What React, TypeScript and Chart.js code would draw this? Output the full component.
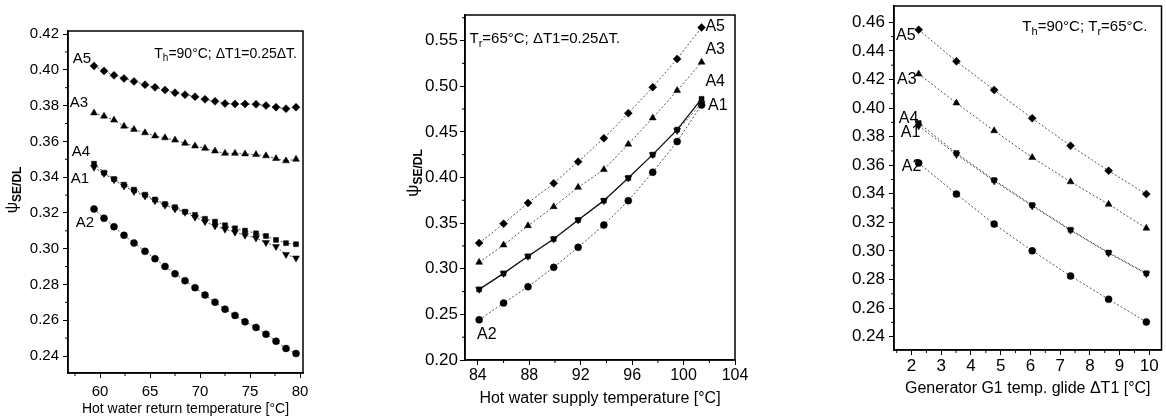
import React, { useEffect, useRef } from "react";
import { Chart, registerables } from "chart.js";

Chart.register(...registerables);

const FONT = '"Liberation Sans", Arial, Helvetica, sans-serif';

// ---------- Panel 1: hot water return temperature ----------
const p1X = [59.4, 60.4, 61.4, 62.4, 63.4, 64.5, 65.5, 66.5, 67.5, 68.5, 69.5, 70.5, 71.5, 72.5, 73.5, 74.5, 75.6, 76.6, 77.6, 78.6, 79.6];
const p1A5 = [0.4022, 0.3994, 0.3969, 0.3952, 0.3935, 0.3917, 0.3902, 0.3887, 0.3872, 0.3861, 0.385, 0.3835, 0.3824, 0.3811, 0.3809, 0.3809, 0.3807, 0.38, 0.3791, 0.3783, 0.3791];
const p1A3 = [0.3759, 0.3741, 0.3719, 0.3685, 0.3667, 0.3648, 0.363, 0.362, 0.3607, 0.3589, 0.3574, 0.3561, 0.3546, 0.3533, 0.3533, 0.353, 0.3526, 0.3519, 0.3504, 0.3491, 0.35];
const p1A4 = [0.3475, 0.3425, 0.339, 0.3358, 0.333, 0.3302, 0.3275, 0.325, 0.3232, 0.3207, 0.3189, 0.3167, 0.3151, 0.3131, 0.3114, 0.3101, 0.3086, 0.3071, 0.3049, 0.3031, 0.3025];
const p1A1 = [0.3455, 0.342, 0.3385, 0.335, 0.332, 0.3295, 0.3268, 0.3243, 0.3222, 0.3203, 0.3176, 0.3151, 0.3127, 0.3109, 0.3092, 0.3075, 0.306, 0.3034, 0.3012, 0.2968, 0.2948];
const p1A2 = [0.3222, 0.317, 0.3123, 0.3075, 0.3032, 0.2985, 0.2944, 0.2901, 0.286, 0.2821, 0.2782, 0.2741, 0.2701, 0.2662, 0.2627, 0.2591, 0.256, 0.2522, 0.2483, 0.2442, 0.2414];
const p1XTicks = [60, 65, 70, 75, 80];
const p1XMinor = [57.5, 62.5, 67.5, 72.5, 77.5];
const p1YTicks = [0.24, 0.26, 0.28, 0.3, 0.32, 0.34, 0.36, 0.38, 0.4, 0.42];
const p1YMinor = [0.25, 0.27, 0.29, 0.31, 0.33, 0.35, 0.37, 0.39, 0.41];

// ---------- Panel 2: hot water supply temperature ----------
const p2X = [84.1, 86.0, 87.9, 89.9, 91.8, 93.8, 95.7, 97.6, 99.5, 101.4];
const p2A5 = [0.3282, 0.3493, 0.372, 0.3936, 0.4173, 0.443, 0.4704, 0.4989, 0.5299, 0.5643];
const p2A3 = [0.307, 0.326, 0.3471, 0.368, 0.3892, 0.4086, 0.4364, 0.4652, 0.4952, 0.5263];
const p2A4 = [0.2774, 0.2949, 0.3136, 0.3326, 0.3534, 0.3746, 0.3995, 0.425, 0.4524, 0.4861];
const p2A1 = [0.2774, 0.2949, 0.3136, 0.3326, 0.3534, 0.3746, 0.3995, 0.425, 0.4515, 0.4812];
const p2A2 = [0.244, 0.2624, 0.2803, 0.3015, 0.3235, 0.3479, 0.3746, 0.4057, 0.4393, 0.4795];
const p2XTicks = [84, 88, 92, 96, 100, 104];
const p2XMinor = [86, 90, 94, 98, 102];
const p2YTicks = [0.2, 0.25, 0.3, 0.35, 0.4, 0.45, 0.5, 0.55];
const p2YMinor = [0.225, 0.275, 0.325, 0.375, 0.425, 0.475, 0.525, 0.575];

// ---------- Panel 3: generator G1 temperature glide ----------
const p3X = [2.24, 3.51, 4.78, 6.06, 7.35, 8.63, 9.9];
const p3A5 = [0.4548, 0.4327, 0.4126, 0.3928, 0.3736, 0.3561, 0.3398];
const p3A3 = [0.4238, 0.4035, 0.3841, 0.3654, 0.3484, 0.3327, 0.3159];
const p3A4 = [0.3895, 0.3685, 0.3496, 0.3321, 0.3148, 0.2989, 0.2844];
const p3A1 = [0.3875, 0.3675, 0.349, 0.3315, 0.3145, 0.2985, 0.284];
const p3A2 = [0.3615, 0.3398, 0.3188, 0.3001, 0.2825, 0.2662, 0.2503];
const p3XTicks = [2, 3, 4, 5, 6, 7, 8, 9, 10];
const p3XMinor = [1.5, 2.5, 3.5, 4.5, 5.5, 6.5, 7.5, 8.5, 9.5];
const p3YTicks = [0.24, 0.26, 0.28, 0.3, 0.32, 0.34, 0.36, 0.38, 0.4, 0.42, 0.44, 0.46];
const p3YMinor = [0.25, 0.27, 0.29, 0.31, 0.33, 0.35, 0.37, 0.39, 0.41, 0.43, 0.45];

type Seg = { t: string; sub?: boolean };
type TextItem = { x: number; y: number; segs: Seg[]; align: "left" | "center" | "right"; size: number };

function drawSegs(ctx: CanvasRenderingContext2D, px: number, py: number, segs: Seg[], align: string, size: number, subBold = false) {
  const subSize = Math.round(size * 0.72);
  const fontOf = (s: Seg) => (s.sub ? `${subBold ? "bold " : ""}${subSize}px ${FONT}` : `${size}px ${FONT}`);
  let total = 0;
  const widths = segs.map((s) => {
    ctx.font = fontOf(s);
    const w = ctx.measureText(s.t).width;
    total += w;
    return w;
  });
  let cx = align === "left" ? px : align === "right" ? px - total : px - total / 2;
  ctx.textBaseline = "middle";
  ctx.textAlign = "left";
  ctx.fillStyle = "#000";
  segs.forEach((s, i) => {
    ctx.font = fontOf(s);
    ctx.fillText(s.t, cx, py + (s.sub ? size * 0.32 : 0));
    cx += widths[i];
  });
}

const decorPlugin = {
  id: "decor",
  afterDraw(chart: any, _args: any, opts: any) {
    const { ctx, chartArea: a, scales } = chart;
    ctx.save();
    ctx.strokeStyle = "#000";
    ctx.lineWidth = 1.5;
    ctx.strokeRect(a.left, a.top, a.right - a.left, a.bottom - a.top);
    ctx.lineWidth = 1;
    (opts.xMinor || []).forEach((v: number) => {
      const px = scales.x.getPixelForValue(v);
      if (px < a.left || px > a.right) return;
      ctx.beginPath();
      ctx.moveTo(px, a.bottom);
      ctx.lineTo(px, a.bottom + 3);
      ctx.stroke();
    });
    (opts.yMinor || []).forEach((v: number) => {
      const py = scales.y.getPixelForValue(v);
      if (py < a.top || py > a.bottom) return;
      ctx.beginPath();
      ctx.moveTo(a.left, py);
      ctx.lineTo(a.left - 3, py);
      ctx.stroke();
    });
    (opts.labels || []).forEach((l: TextItem) => {
      drawSegs(ctx, scales.x.getPixelForValue(l.x), scales.y.getPixelForValue(l.y), l.segs, l.align, l.size);
    });
    if (opts.yTitle) {
      const t = opts.yTitle;
      ctx.translate(t.px, t.py);
      ctx.rotate(-Math.PI / 2);
      drawSegs(ctx, 0, 0, t.segs, "center", t.size, true);
    }
    ctx.restore();
  },
};

type SeriesSpec = { label: string; data: number[]; style: string; rotation?: number; radius: number; dash: number[]; width: number; color: string };

type PanelSpec = {
  width: number;
  x: number[];
  series: SeriesSpec[];
  xMin: number; xMax: number; yMin: number; yMax: number;
  xTicks: number[]; yTicks: number[]; xMinor: number[]; yMinor: number[];
  yAxisW: number; xAxisH: number; padTop: number; padRight: number;
  xTitle: string; xTitleSize: number; xTitlePad: number;
  tickSizeX: number; tickSizeY: number; yTickPad: number; xTickPad: number;
  labels: TextItem[];
  yTitle?: { px: number; py: number; segs: Seg[]; size: number };
};

function buildConfig(p: PanelSpec): any {
  return {
    type: "line",
    data: {
      datasets: p.series.map((s) => ({
        label: s.label,
        data: p.x.map((xv, i) => ({ x: xv, y: s.data[i] })),
        borderColor: s.color,
        borderWidth: s.width,
        borderDash: s.dash,
        pointStyle: s.style,
        rotation: s.rotation ?? 0,
        pointRotation: s.rotation ?? 0,
        pointRadius: s.radius,
        pointBackgroundColor: "#000",
        pointBorderColor: "#000",
        pointBorderWidth: 0.5,
        fill: false,
        tension: 0,
      })),
    },
    options: {
      animation: false,
      responsive: false,
      events: [],
      layout: { padding: { top: p.padTop, right: p.padRight, left: 0, bottom: 0 } },
      plugins: {
        legend: { display: false },
        tooltip: { enabled: false },
        decor: { xMinor: p.xMinor, yMinor: p.yMinor, labels: p.labels, yTitle: p.yTitle },
      },
      scales: {
        x: {
          type: "linear",
          min: p.xMin,
          max: p.xMax,
          afterBuildTicks: (s: any) => {
            s.ticks = p.xTicks.map((v) => ({ value: v }));
          },
          afterFit: (s: any) => {
            s.height = p.xAxisH;
            s.paddingLeft = 0;
            s.paddingRight = 0;
          },
          ticks: {
            autoSkip: false,
            maxRotation: 0,
            padding: p.xTickPad,
            color: "#000",
            font: { family: FONT, size: p.tickSizeX },
            callback: (v: any) => String(v),
          },
          grid: { drawOnChartArea: false, drawTicks: true, tickLength: 5, tickColor: "#000", color: "#000" },
          border: { display: true, color: "#000", width: 1.5 },
          title: {
            display: true,
            text: p.xTitle,
            color: "#000",
            font: { family: FONT, size: p.xTitleSize },
            padding: { top: 0, bottom: p.xTitlePad },
          },
        },
        y: {
          type: "linear",
          min: p.yMin,
          max: p.yMax,
          afterBuildTicks: (s: any) => {
            s.ticks = p.yTicks.map((v) => ({ value: v }));
          },
          afterFit: (s: any) => {
            s.width = p.yAxisW;
            s.paddingTop = 0;
            s.paddingBottom = 0;
          },
          ticks: {
            autoSkip: false,
            padding: p.yTickPad,
            color: "#000",
            font: { family: FONT, size: p.tickSizeY },
            callback: (v: any) => Number(v).toFixed(2),
          },
          grid: { drawOnChartArea: false, drawTicks: true, tickLength: 5, tickColor: "#000", color: "#000" },
          border: { display: true, color: "#000", width: 1.5 },
        },
      },
    },
    plugins: [decorPlugin],
  };
}

const DOT = [2, 2];

function mkSeries(a5: number[], a3: number[], a4: number[], a1: number[], a2: number[], a4Solid = false): SeriesSpec[] {
  return [
    { label: "A5", data: a5, style: "rectRot", radius: 4, dash: DOT, width: 1, color: "#555" },
    { label: "A3", data: a3, style: "triangle", radius: 4, dash: DOT, width: 1, color: "#555" },
    { label: "A4", data: a4, style: "rect", radius: 3.5, dash: a4Solid ? [] : DOT, width: a4Solid ? 1.3 : 1, color: a4Solid ? "#111" : "#555" },
    { label: "A1", data: a1, style: "triangle", rotation: 180, radius: 4, dash: DOT, width: 1, color: "#555" },
    { label: "A2", data: a2, style: "circle", radius: 3.5, dash: DOT, width: 1, color: "#555" },
  ];
}

const panel1: PanelSpec = {
  width: 320,
  x: p1X,
  series: mkSeries(p1A5, p1A3, p1A4, p1A1, p1A2),
  xMin: 56.8, xMax: 80.3, yMin: 0.2305, yMax: 0.4217,
  xTicks: p1XTicks, yTicks: p1YTicks, xMinor: p1XMinor, yMinor: p1YMinor,
  yAxisW: 68, xAxisH: 47, padTop: 31, padRight: 17,
  xTitle: "Hot water return temperature [°C]", xTitleSize: 14, xTitlePad: 2,
  tickSizeX: 15, tickSizeY: 15, yTickPad: 4, xTickPad: 5,
  labels: [
    { x: 58.2, y: 0.406, segs: [{ t: "A5" }], align: "center", size: 15 },
    { x: 57.9, y: 0.3815, segs: [{ t: "A3" }], align: "center", size: 15 },
    { x: 58.1, y: 0.3541, segs: [{ t: "A4" }], align: "center", size: 15 },
    { x: 58.0, y: 0.339, segs: [{ t: "A1" }], align: "center", size: 15 },
    { x: 58.5, y: 0.3144, segs: [{ t: "A2" }], align: "center", size: 15 },
    { x: 79.7, y: 0.4088, segs: [{ t: "T" }, { t: "h", sub: true }, { t: "=90°C; ΔT1=0.25ΔT." }], align: "right", size: 14 },
  ],
  yTitle: { px: 13, py: 190, segs: [{ t: "ψ" }, { t: "SE/DL", sub: true }], size: 16 },
};

const panel2: PanelSpec = {
  width: 370,
  x: p2X,
  series: mkSeries(p2A5, p2A3, p2A4, p2A1, p2A2, true),
  xMin: 83.0, xMax: 104, yMin: 0.2, yMax: 0.578,
  xTicks: p2XTicks, yTicks: p2YTicks, xMinor: p2XMinor, yMinor: p2YMinor,
  yAxisW: 85, xAxisH: 60, padTop: 15, padRight: 15,
  xTitle: "Hot water supply temperature [°C]", xTitleSize: 16, xTitlePad: 12,
  tickSizeX: 16, tickSizeY: 17, yTickPad: 2, xTickPad: 1,
  labels: [
    { x: 101.7, y: 0.565, segs: [{ t: "A5" }], align: "left", size: 16 },
    { x: 101.7, y: 0.5398, segs: [{ t: "A3" }], align: "left", size: 16 },
    { x: 101.7, y: 0.505, segs: [{ t: "A4" }], align: "left", size: 16 },
    { x: 101.9, y: 0.4784, segs: [{ t: "A1" }], align: "left", size: 16 },
    { x: 84.7, y: 0.2273, segs: [{ t: "A2" }], align: "center", size: 16 },
    { x: 83.35, y: 0.552, segs: [{ t: "T" }, { t: "r", sub: true }, { t: "=65°C; ΔT1=0.25ΔT." }], align: "left", size: 15 },
  ],
  yTitle: { px: 33, py: 173, segs: [{ t: "ψ" }, { t: "SE/DL", sub: true }], size: 17 },
};

const panel3: PanelSpec = {
  width: 336,
  x: p3X,
  series: mkSeries(p3A5, p3A3, p3A4, p3A1, p3A2),
  xMin: 1.41, xMax: 10.41, yMin: 0.2307, yMax: 0.4714,
  xTicks: p3XTicks, yTicks: p3YTicks, xMinor: p3XMinor, yMinor: p3YMinor,
  yAxisW: 64, xAxisH: 70, padTop: 6, padRight: 2,
  xTitle: "Generator G1 temp. glide ΔT1 [°C]", xTitleSize: 16, xTitlePad: 22,
  tickSizeX: 17, tickSizeY: 17, yTickPad: 4, xTickPad: 1,
  labels: [
    { x: 1.81, y: 0.4504, segs: [{ t: "A5" }], align: "center", size: 16 },
    { x: 1.84, y: 0.4196, segs: [{ t: "A3" }], align: "center", size: 16 },
    { x: 1.9, y: 0.3925, segs: [{ t: "A4" }], align: "center", size: 16 },
    { x: 1.97, y: 0.3825, segs: [{ t: "A1" }], align: "center", size: 16 },
    { x: 2.0, y: 0.359, segs: [{ t: "A2" }], align: "center", size: 16 },
    { x: 9.94, y: 0.4567, segs: [{ t: "T" }, { t: "h", sub: true }, { t: "=90°C; T" }, { t: "r", sub: true }, { t: "=65°C." }], align: "right", size: 15 },
  ],
};

function Panel({ left, spec }: { left: number; spec: PanelSpec }) {
  const ref = useRef<HTMLCanvasElement>(null);
  useEffect(() => {
    const chart = new Chart(ref.current as HTMLCanvasElement, buildConfig(spec));
    return () => chart.destroy();
  }, [spec]);
  return (
    <div style={{ position: "absolute", left, top: 0, width: spec.width, height: 420 }}>
      <canvas ref={ref} width={spec.width} height={420} style={{ display: "block" }} />
    </div>
  );
}

export default function App() {
  return (
    <div style={{ position: "absolute", left: 0, top: 0, width: 1166, height: 420, background: "#fff", overflow: "hidden" }}>
      <Panel left={0} spec={panel1} />
      <Panel left={380} spec={panel2} />
      <Panel left={830} spec={panel3} />
    </div>
  );
}
